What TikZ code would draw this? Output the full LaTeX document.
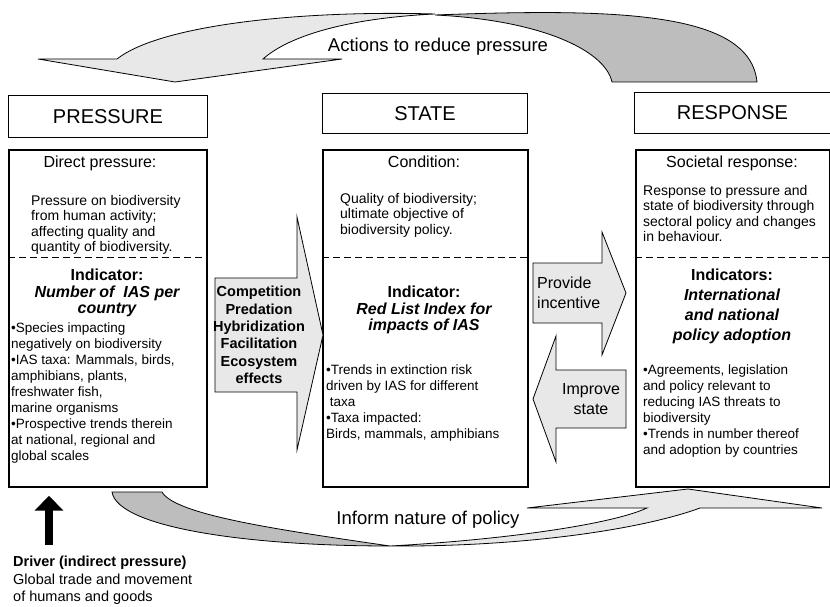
\documentclass[tikz,border=0pt]{standalone}
\usepackage{fontspec}
\setmainfont{Liberation Sans}
\usetikzlibrary{arrows.meta}

\begin{document}
\begin{tikzpicture}[x=1pt,y=-1pt,
	hdrbox/.style={draw,line width=1pt,anchor=north west,font=\fontsize{20}{24}\selectfont},
	mainbox/.style={draw,line width=1.7pt,anchor=north west},
	split/.style={line width=1pt,dash pattern=on 7pt off 4pt},
	subhead/.style={font=\fontsize{16}{18}\selectfont},
	desc/.style={anchor=north west,align=left,inner sep=0pt,font=\fontsize{14}{15.5}\selectfont},
	indic/.style={anchor=north,align=center,inner sep=0pt,font=\fontsize{16}{16.5}\selectfont\bfseries},
	blist/.style={anchor=north west,align=left,inner sep=0pt,font=\fontsize{13.5}{16}\selectfont},
	blockarrow/.style={draw,line width=0.8pt,fill=black!9,line join=miter},
	arclight/.style={draw,line width=0.8pt,fill=black!9},
	arcdark/.style={draw,line width=0.8pt,fill=black!26},
	arclabel/.style={font=\fontsize{18.5}{20}\selectfont},
	drivearrow/.style={line width=8pt,-{Triangle[length=15pt,width=28pt]}}]
	\useasboundingbox (0,0) rectangle (830,607);
	\coordinate (dashy) at (0,257);

	\fill[arcdark] (612,82) .. controls (605,50) and (540,20) .. (435,15) .. controls (620,8) and (750,12) .. (757,82) -- cycle;
	\fill[arclight] (435,14) .. controls (300,10) and (160,25) .. (117,59) -- (38,59) -- (175,82) -- (342,59) -- (263,59) .. controls (290,35) and (350,18) .. (435,14) -- cycle;
	\node[arclabel] (actlbl) at (438,47) {Actions to reduce pressure};

	\node[hdrbox,minimum width=199pt,minimum height=42pt] (phdr) at (8,95) {PRESSURE};
	\node[hdrbox,minimum width=205pt,minimum height=40pt] (shdr) at (322,93) {STATE};
	\node[hdrbox,minimum width=196pt,minimum height=41pt] (rhdr) at (634,92) {RESPONSE};

	\node[mainbox,minimum width=198pt,minimum height=337pt] (pbox) at (8,149) {};
	\draw[split] (pbox.west |- dashy) -- (pbox.east |- dashy);
	\node[subhead] (ptitle) at (100,163) {Direct pressure:};
	\node[desc] (ptext) at (31,195) {Pressure on biodiversity\\from human activity;\\affecting quality and\\quantity of biodiversity.};
	\node[indic] (pind) at (107,269) {Indicator:\\{\itshape Number of\ \ IAS per}\\{\itshape country}};
	\node[blist] (plist) at (11,323) {•Species impacting\\negatively on biodiversity\\•IAS taxa: Mammals, birds,\\amphibians, plants,\\freshwater fish,\\marine organisms\\•Prospective trends therein\\at national, regional and\\global scales};

	\node[mainbox,minimum width=205pt,minimum height=337pt] (sbox) at (322,149) {};
	\draw[split] (sbox.west |- dashy) -- (sbox.east |- dashy);
	\node[subhead] (stitle) at (424,162) {Condition:};
	\node[desc] (stext) at (340,193) {Quality of biodiversity;\\ultimate objective of\\biodiversity policy.};
	\node[indic] (sind) at (424,286) {Indicator:\\{\itshape Red List Index for}\\{\itshape impacts of IAS}};
	\node[blist] (slist) at (326,365) {•Trends in extinction risk\\driven by IAS for different\\\ taxa\\•Taxa impacted:\\Birds, mammals, amphibians};

	\node[mainbox,minimum width=194pt,minimum height=337pt] (rbox) at (635,149) {};
	\draw[split] (rbox.west |- dashy) -- (rbox.east |- dashy);
	\node[subhead] (rtitle) at (732,163) {Societal response:};
	\node[desc] (rtext) at (643,185) {Response to pressure and\\state of biodiversity through\\sectoral policy and changes\\in behaviour.};
	\node[indic,font=\fontsize{16}{20}\selectfont\bfseries] (rind) at (732,269) {Indicators:\\{\itshape International}\\{\itshape and national}\\{\itshape policy adoption}};
	\node[blist] (rlist) at (643,365) {•Agreements, legislation\\and policy relevant to\\reducing IAS threats to\\biodiversity\\•Trends in number thereof\\and adoption by countries};

	\draw[blockarrow] (215,278) -- (297,278) -- (297,217) -- (323,335) -- (297,450) -- (297,392) -- (215,392) -- cycle;
	\node[align=center,font=\fontsize{14.5}{17.4}\selectfont\bfseries] (mech) at (259,335) {Competition\\Predation\\Hybridization\\Facilitation\\Ecosystem\\effects};
	\draw[blockarrow] (533,263) -- (602,263) -- (602,232) -- (626,293) -- (602,355) -- (602,323) -- (533,323) -- cycle;
	\node[anchor=west,align=left,inner sep=0pt,font=\fontsize{16}{20}\selectfont] (incent) at (537,293) {Provide\\incentive};
	\draw[blockarrow] (626,370) -- (556,370) -- (556,336) -- (533,399) -- (556,462) -- (556,428) -- (626,428) -- cycle;
	\node[align=center,inner sep=0pt,font=\fontsize{16}{20}\selectfont] (improve) at (591,399) {Improve\\state};

	\fill[arcdark] (112,492) .. controls (118,528) and (250,546) .. (390,546) .. controls (280,530) and (175,515) .. (162,492) -- cycle;
	\fill[arclight] (390,546) .. controls (520,547) and (640,530) .. (700,508) -- (822,508) -- (688,489) -- (527,508) -- (647,508) .. controls (610,525) and (500,540) .. (390,546) -- cycle;
	\node[arclabel] (inflbl) at (428,520) {Inform nature of policy};

	\node[anchor=north west,align=left,inner sep=0pt,font=\fontsize{14.5}{17.5}\selectfont] (driver) at (13,556) {\textbf{Driver (indirect pressure)}\\Global trade and movement\\of humans and goods};
	\coordinate (drvtop) at (49,545);
	\draw[drivearrow,shorten >=8pt] (drvtop) -- (drvtop |- pbox.south);
\end{tikzpicture}
\end{document}
